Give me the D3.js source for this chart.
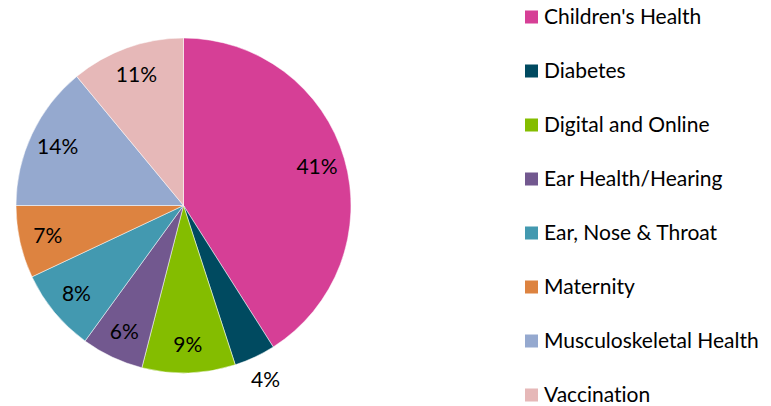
<!DOCTYPE html>
<html>
<head>
<meta charset="utf-8">
<script src="https://cdn.jsdelivr.net/npm/d3@7"></script>
<style>
  body { margin: 0; background: #fff; }
  text { font-family: Lato, "Open Sans", sans-serif; fill: #000; font-variant-ligatures: none; }
</style>
</head>
<body>
<div class="chart"></div>
<script>
var categories = ["Children's Health", "Diabetes", "Digital and Online", "Ear Health/Hearing",
    "Ear, Nose & Throat", "Maternity", "Musculoskeletal Health", "Vaccination"];
var values = [41, 4, 9, 6, 8, 7, 14, 11];
var colors = ["#D63F96", "#004A60", "#84BD00", "#72588F", "#4399B0", "#DD8340", "#95A9CF", "#E6B8B8"];
var outsideLabels = ["Diabetes"];

var svgWidth = 771;
var svgHeight = 406;
var cx = 183.5, cy = 205.5, radius = 167.5;

var svg = d3.select(".chart")
    .append("svg")
    .attr("width", svgWidth)
    .attr("height", svgHeight);

var data = categories.map(function(c, i) {
    return { name: c, value: values[i], color: colors[i] };
});

var pie = d3.pie()
    .sort(null)
    .value(d => d.value);

var arc = d3.arc()
    .innerRadius(0)
    .outerRadius(radius);

var labelArc = d3.arc()
    .innerRadius(radius * 0.83)
    .outerRadius(radius * 0.83);

var outerArc = d3.arc()
    .innerRadius(radius * 1.15)
    .outerRadius(radius * 1.15);

var pieGroup = svg.append("g")
    .attr("transform", `translate(${cx}, ${cy})`);

var slices = pie(data);

pieGroup.selectAll("path")
    .data(slices)
    .enter()
    .append("path")
    .attr("d", arc)
    .attr("fill", d => d.data.color)
    .attr("stroke", "#fff")
    .attr("stroke-width", 0.5);

pieGroup.selectAll("text")
    .data(slices)
    .enter()
    .append("text")
    .attr("transform", function(d) {
        var a = outsideLabels.indexOf(d.data.name) >= 0 ? outerArc : labelArc;
        return `translate(${a.centroid(d)})`;
    })
    .attr("text-anchor", "middle")
    .attr("dy", "0.35em")
    .attr("font-size", "21px")
    .text(d => d.data.value + "%");

var legend = svg.append("g")
    .attr("transform", "translate(525, 17)");

var legendItems = legend.selectAll("g")
    .data(data)
    .enter()
    .append("g")
    .attr("transform", (d, i) => `translate(0, ${i * 54})`);

legendItems.append("rect")
    .attr("x", 0)
    .attr("y", -6.5)
    .attr("width", 13)
    .attr("height", 13)
    .attr("fill", d => d.color);

legendItems.append("text")
    .attr("x", 19)
    .attr("dy", "0.35em")
    .attr("font-size", "21px")
    .text(d => d.name);
</script>
</body>
</html>
